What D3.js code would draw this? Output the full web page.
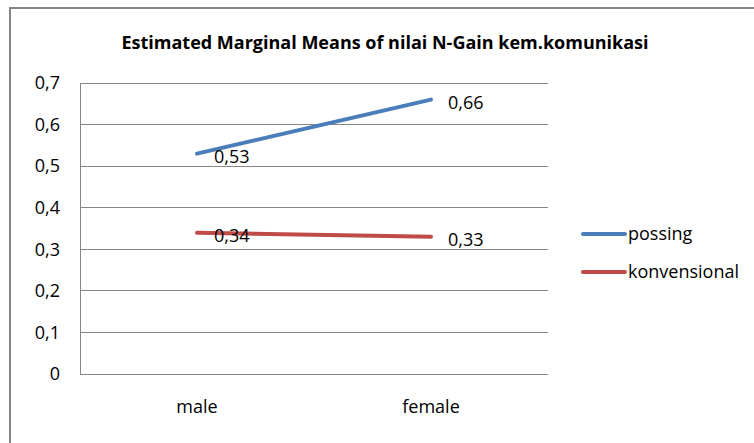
<!DOCTYPE html>
<html><head><meta charset="utf-8">
<script src="https://cdn.jsdelivr.net/npm/d3@7/dist/d3.min.js"></script>
<style>body{margin:0;background:#fff;} svg{display:block;} text{font-family:"Open Sans",sans-serif;fill:#000;}</style>
</head><body>
<svg id="c" width="754" height="443"></svg>
<script>
const title = "Estimated Marginal Means of nilai N-Gain kem.komunikasi";
const categories = ["male", "female"];
const seriesNames = ["possing", "konvensional"];
const possing = [0.53, 0.66];
const konvensional = [0.34, 0.33];
const yTicks = [0, 0.1, 0.2, 0.3, 0.4, 0.5, 0.6, 0.7];
const colors = ["#4A7EBB", "#BE4B48"];
const FONT = '"Open Sans",sans-serif';
const FS = "18px";

const svg = d3.select("#c");
svg.append("rect").attr("x", 10).attr("y", 8).attr("width", 760).attr("height", 460)
  .attr("fill", "none").attr("stroke", "#868686").attr("stroke-width", 2);

const L = 80, R = 548, T = 83, B = 374;
const x = d3.scaleBand().domain(categories).range([L, R]);
const y = d3.scaleLinear().domain([0, 0.7]).range([B, T]);
const fmt = d => String(+d.toFixed(2)).replace(".", ",");

svg.append("text").attr("x", 385).attr("y", 49).attr("text-anchor", "middle")
  .style("font-size", "18px").style("font-weight", "bold").text(title);

svg.append("g").selectAll("line").data(yTicks).join("line")
  .attr("x1", L).attr("x2", R).attr("y1", d => y(d)).attr("y2", d => y(d))
  .attr("stroke", "#868686").attr("stroke-width", 1).attr("shape-rendering", "crispEdges");
svg.append("line").attr("x1", L).attr("x2", L).attr("y1", T).attr("y2", B)
  .attr("stroke", "#868686").attr("shape-rendering", "crispEdges");

const yAxis = d3.axisLeft(y).tickValues(yTicks).tickFormat(fmt).tickSize(0).tickPadding(20);
const ga = svg.append("g").attr("transform", `translate(${L},0)`).call(yAxis);
ga.select(".domain").remove();
ga.selectAll("text").style("font-size", FS).style("font-family", FONT).attr("fill", "#000");

const xAxis = d3.axisBottom(x).tickSize(0).tickPadding(26);
const gx = svg.append("g").attr("transform", `translate(0,${B})`).call(xAxis);
gx.select(".domain").remove();
gx.selectAll("text").style("font-size", FS).style("font-family", FONT).attr("fill", "#000");

const series = [possing, konvensional];
const line = d3.line().x((d, i) => x(categories[i]) + x.bandwidth() / 2).y(d => y(d));
series.forEach((s, k) => {
  svg.append("path").datum(s).attr("d", line).attr("fill", "none")
    .attr("stroke", colors[k]).attr("stroke-width", 4).attr("stroke-linecap", "round");
  svg.append("g").selectAll("text").data(s).join("text")
    .attr("x", (d, i) => x(categories[i]) + x.bandwidth() / 2 + 17)
    .attr("y", d => y(d) + 3).attr("dy", "0.35em")
    .style("font-size", FS).text(fmt);
});

seriesNames.forEach((n, k) => {
  const ly = 234 + k * 38;
  svg.append("line").attr("x1", 583).attr("x2", 625).attr("y1", ly).attr("y2", ly)
    .attr("stroke", colors[k]).attr("stroke-width", 4).attr("stroke-linecap", "round");
  svg.append("text").attr("x", 628).attr("y", ly).attr("dy", "0.35em")
    .style("font-size", FS).text(n);
});
</script>
</body></html>
